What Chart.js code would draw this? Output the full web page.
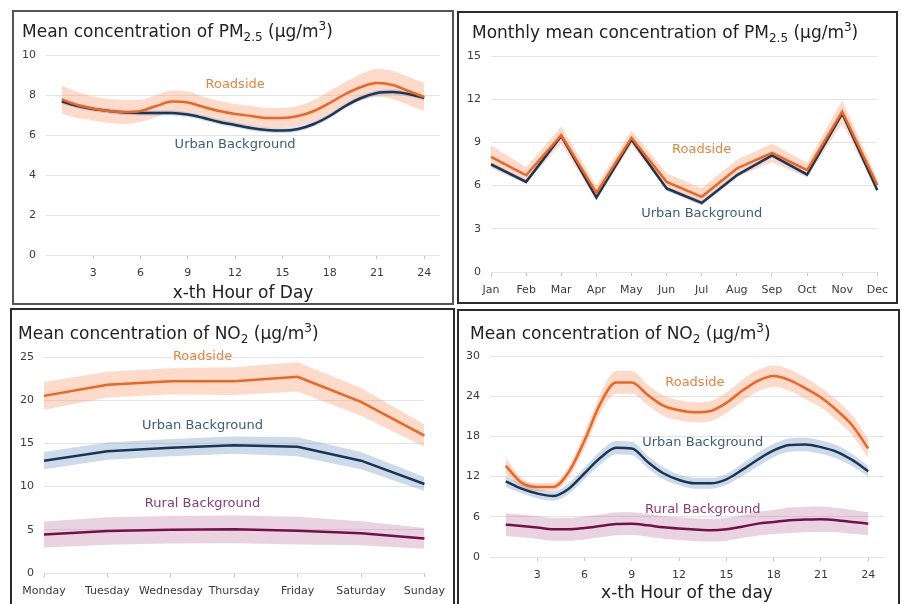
<!DOCTYPE html>
<html>
<head>
<meta charset="utf-8">
<script src="https://cdn.jsdelivr.net/npm/chart.js@4.4.0/dist/chart.umd.min.js"></script>
<style>
  body { margin: 0; width: 902px; height: 604px; overflow: hidden; background: #fff; font-family: "DejaVu Sans", sans-serif; position: relative; }
  .panel { position: absolute; box-sizing: border-box; border: 2px solid #2b2b2b; background: #fff; overflow: hidden; }
  .panel canvas { position: absolute; left: 0; top: 0; }
  .title { position: absolute; font-size: 17px; color: #222; white-space: nowrap; line-height: 20px; }
  .title sub, .title sup { font-size: 12px; line-height: 0; }
  .xlabel { position: absolute; font-size: 17px; color: #222; white-space: nowrap; line-height: 20px; transform: translateX(-50%); }
</style>
</head>
<body>

<div class="panel" style="left:12px;top:10px;width:442px;height:295px;border-color:#555">
  <canvas id="pmHour" width="438" height="291"></canvas>
  <div class="title" style="left:8px;top:9px">Mean concentration of PM<sub>2.5</sub> (µg/m<sup>3</sup>)</div>
  <div class="xlabel" style="left:229px;top:270px">x-th Hour of Day</div>
</div>

<div class="panel" style="left:457px;top:11px;width:441px;height:293px">
  <canvas id="pmMonth" width="437" height="289"></canvas>
  <div class="title" style="left:13px;top:9px">Monthly mean concentration of PM<sub>2.5</sub> (µg/m<sup>3</sup>)</div>
</div>

<div class="panel" style="left:10px;top:308px;width:445px;height:298px">
  <canvas id="no2Week" width="441" height="294"></canvas>
  <div class="title" style="left:6px;top:13px">Mean concentration of NO<sub>2</sub> (µg/m<sup>3</sup>)</div>
</div>

<div class="panel" style="left:457px;top:309px;width:443px;height:298px">
  <canvas id="no2Hour" width="439" height="294"></canvas>
  <div class="title" style="left:11px;top:12px">Mean concentration of NO<sub>2</sub> (µg/m<sup>3</sup>)</div>
  <div class="xlabel" style="left:228px;top:271px">x-th Hour of the day</div>
</div>

<script>
// --- datos ---
const hours = [1,2,3,4,5,6,7,8,9,10,11,12,13,14,15,16,17,18,19,20,21,22,23,24];
const hourTicks = [3,6,9,12,15,18,21,24];
const months = ["Jan","Feb","Mar","Apr","May","Jun","Jul","Aug","Sep","Oct","Nov","Dec"];
const weekdays = ["Monday","Tuesday","Wednesday","Thursday","Friday","Saturday","Sunday"];

// PM2.5 por hora
const pmHourRoadside = [7.78,7.5,7.33,7.2,7.15,7.2,7.45,7.67,7.62,7.4,7.2,7.05,6.95,6.85,6.85,6.95,7.2,7.6,8.05,8.4,8.6,8.5,8.2,7.9];
const pmHourRoadsideCi = [0.7,0.65,0.6,0.6,0.6,0.55,0.55,0.55,0.55,0.5,0.5,0.5,0.5,0.5,0.5,0.5,0.55,0.6,0.6,0.65,0.7,0.7,0.7,0.7];
const pmHourUrban = [7.67,7.45,7.3,7.2,7.12,7.1,7.1,7.1,7.02,6.85,6.65,6.5,6.35,6.25,6.22,6.3,6.55,6.95,7.45,7.85,8.1,8.15,8.05,7.85];
const pmHourUrbanCi = [0.12,0.12,0.12,0.12,0.12,0.12,0.12,0.12,0.12,0.12,0.12,0.12,0.12,0.12,0.12,0.12,0.12,0.12,0.12,0.12,0.12,0.12,0.12,0.12];

// PM2.5 mensual
const pmMonthRoadside = [8.0,6.72,9.5,5.5,9.32,6.26,5.22,7.19,8.28,7.07,11.13,6.03];
const pmMonthRoadsideCi = [0.8,0.55,0.6,0.5,0.5,0.6,0.6,0.6,0.65,0.5,0.8,0.45];
const pmMonthUrban = [7.47,6.26,9.45,5.17,9.2,5.8,4.8,6.72,8.1,6.77,11.0,5.68];
const pmMonthUrbanCi = [0.15,0.15,0.15,0.15,0.15,0.15,0.15,0.15,0.15,0.15,0.15,0.15];

// NO2 por dia de la semana
const no2WeekRoadside = [20.5,21.8,22.2,22.2,22.7,19.8,15.9];
const no2WeekRoadsideCi = [1.6,1.5,1.5,1.6,1.7,1.6,1.3];
const no2WeekUrban = [13.0,14.1,14.5,14.8,14.6,13.0,10.3];
const no2WeekUrbanCi = [1.0,1.0,1.0,1.0,1.1,1.0,0.8];
const no2WeekRural = [4.45,4.86,5.0,5.05,4.9,4.6,4.0];
const no2WeekRuralCi = [1.5,1.6,1.6,1.6,1.6,1.4,1.2];

// NO2 por hora
const no2HourRoadside = [13.6,11.1,10.46,10.46,12.7,17.4,22.9,26.06,26.06,24.2,22.6,21.9,21.6,21.8,23.0,24.8,26.3,27.0,26.4,25.2,23.8,21.9,19.6,16.2];
const no2HourRoadsideCi = [1.2,0.7,0.6,0.6,0.8,1.2,1.4,1.7,1.7,1.5,1.5,1.5,1.5,1.5,1.5,1.6,1.6,1.6,1.6,1.6,1.5,1.5,1.5,1.4];
const no2HourUrban = [11.3,10.2,9.47,9.1,10.2,12.5,14.8,16.3,16.2,14.2,12.5,11.5,11.0,11.0,11.6,13.0,14.55,15.9,16.7,16.8,16.4,15.7,14.45,12.8];
const no2HourUrbanCi = [0.8,0.7,0.7,0.7,0.8,0.9,1.0,1.0,1.0,0.9,0.9,0.8,0.8,0.8,0.8,0.9,1.0,1.0,1.0,1.0,1.0,1.0,0.9,0.8];
const no2HourRural = [4.83,4.63,4.4,4.14,4.14,4.33,4.63,4.93,4.98,4.73,4.43,4.24,4.1,4.0,4.14,4.53,4.98,5.23,5.5,5.58,5.63,5.5,5.23,4.98];
const no2HourRuralCi = [1.7,1.7,1.7,1.7,1.7,1.7,1.7,1.7,1.7,1.7,1.7,1.7,1.7,1.7,1.7,1.7,1.8,1.8,1.9,1.9,1.9,1.8,1.8,1.7];

// colores
const ORANGE = '#ef6520', ORANGE_TXT = '#e8843e', ORANGE_BAND = 'rgba(248,150,100,0.35)';
const NAVY = '#1b3556', NAVY_TXT = '#3d5c7e', NAVY_BAND = 'rgba(110,150,195,0.35)';
const PLUM = '#750f4c', PLUM_TXT = '#8c3c70', PLUM_BAND = 'rgba(170,80,130,0.25)';

// plugin para los textos sobre las curvas
const textLabels = {
  id: 'textLabels',
  afterDatasetsDraw(chart, args, opts) {
    const { ctx, scales: { x, y } } = chart;
    ctx.save();
    ctx.font = '13px "DejaVu Sans"';
    ctx.textAlign = 'center';
    ctx.textBaseline = 'middle';
    (opts.items || []).forEach(it => {
      ctx.fillStyle = it.color;
      ctx.fillText(it.text, x.getPixelForValue(it.x), y.getPixelForValue(it.y));
    });
    ctx.restore();
  }
};

// arma los puntos, con x numerica o por categoria
function pts(xs, vals, off, sign) {
  return vals.map((v, i) => {
    const yv = off ? v + sign * off[i] : v;
    return xs ? { x: xs[i], y: yv } : yv;
  });
}

function series(xs, vals, ci, line, band, order, smooth) {
  const common = { pointRadius: 0, cubicInterpolationMode: smooth ? 'monotone' : 'default', tension: 0 };
  return [
    Object.assign({ data: pts(xs, vals, ci, 1), borderWidth: 0, fill: false, order: 10 }, common),
    Object.assign({ data: pts(xs, vals, ci, -1), borderWidth: 0, fill: '-1', backgroundColor: band, order: 10 }, common),
    Object.assign({ data: pts(xs, vals), borderColor: line, borderWidth: 2.5, fill: false, order: order }, common)
  ];
}

function baseOptions(cfg) {
  return {
    responsive: false,
    animation: false,
    layout: { autoPadding: false, padding: { left: 0, top: cfg.top, right: cfg.right, bottom: 0 } },
    plugins: { legend: { display: false }, tooltip: { enabled: false }, textLabels: { items: cfg.labels } },
    scales: {
      x: Object.assign({
        border: { display: false },
        grid: { drawOnChartArea: false, drawTicks: true, tickLength: 4, color: '#c4c4c4' },
        ticks: { color: '#3a3a3a', font: { family: 'DejaVu Sans', size: 11 }, padding: 8, maxRotation: 0, autoSkip: false },
        afterFit: s => { s.height = cfg.xh; }
      }, cfg.x),
      y: {
        min: 0, max: cfg.ymax,
        border: { display: false },
        grid: { color: '#e4e4e4', drawTicks: false, lineWidth: 1 },
        ticks: { stepSize: cfg.ystep, color: '#3a3a3a', font: { family: 'DejaVu Sans', size: 11 }, padding: 10 },
        afterFit: s => { s.width = cfg.yw; }
      }
    }
  };
}

const hourAxis = {
  type: 'linear', min: 0, max: 25,
  afterBuildTicks: s => { s.ticks = hourTicks.map(v => ({ value: v })); }
};

// Grafico 1: PM2.5 por hora
new Chart(document.getElementById('pmHour'), {
  type: 'line',
  data: {
    datasets: [
      ...series(hours, pmHourUrban, pmHourUrbanCi, NAVY, NAVY_BAND, 1, true),
      ...series(hours, pmHourRoadside, pmHourRoadsideCi, ORANGE, ORANGE_BAND, 0, true)
    ]
  },
  options: baseOptions({
    top: 43, right: 12, xh: 48, yw: 32, ymax: 10, ystep: 2, x: hourAxis,
    labels: [
      { text: 'Roadside', x: 12, y: 8.5, color: ORANGE_TXT },
      { text: 'Urban Background', x: 12, y: 5.5, color: NAVY_TXT }
    ]
  }),
  plugins: [textLabels]
});

// Grafico 2: PM2.5 mensual
new Chart(document.getElementById('pmMonth'), {
  type: 'line',
  data: {
    labels: months,
    datasets: [
      ...series(null, pmMonthUrban, pmMonthUrbanCi, NAVY, NAVY_BAND, 1, false),
      ...series(null, pmMonthRoadside, pmMonthRoadsideCi, ORANGE, ORANGE_BAND, 0, false)
    ]
  },
  options: baseOptions({
    top: 43, right: 10, xh: 30, yw: 32, ymax: 15, ystep: 3, x: { type: 'category', offset: false },
    labels: [
      { text: 'Roadside', x: 6, y: 8.5, color: ORANGE_TXT },
      { text: 'Urban Background', x: 6, y: 4.06, color: NAVY_TXT }
    ]
  }),
  plugins: [textLabels]
});

// Grafico 3: NO2 semanal
new Chart(document.getElementById('no2Week'), {
  type: 'line',
  data: {
    labels: weekdays,
    datasets: [
      ...series(null, no2WeekRural, no2WeekRuralCi, PLUM, PLUM_BAND, 2, false),
      ...series(null, no2WeekUrban, no2WeekUrbanCi, NAVY, NAVY_BAND, 1, false),
      ...series(null, no2WeekRoadside, no2WeekRoadsideCi, ORANGE, ORANGE_BAND, 0, false)
    ]
  },
  options: baseOptions({
    top: 47, right: 25, xh: 31, yw: 32, ymax: 25, ystep: 5, x: { type: 'category', offset: false },
    labels: [
      { text: 'Roadside', x: 2.5, y: 25.1, color: ORANGE_TXT },
      { text: 'Urban Background', x: 2.5, y: 17.1, color: NAVY_TXT },
      { text: 'Rural Background', x: 2.5, y: 8.0, color: PLUM_TXT }
    ]
  }),
  plugins: [textLabels]
});

// Grafico 4: NO2 por hora
new Chart(document.getElementById('no2Hour'), {
  type: 'line',
  data: {
    datasets: [
      ...series(hours, no2HourRural, no2HourRuralCi, PLUM, PLUM_BAND, 2, true),
      ...series(hours, no2HourUrban, no2HourUrbanCi, NAVY, NAVY_BAND, 1, true),
      ...series(hours, no2HourRoadside, no2HourRoadsideCi, ORANGE, ORANGE_BAND, 0, true)
    ]
  },
  options: baseOptions({
    top: 45, right: 14, xh: 48, yw: 31, ymax: 30, ystep: 6, x: hourAxis,
    labels: [
      { text: 'Roadside', x: 13, y: 26, color: ORANGE_TXT },
      { text: 'Urban Background', x: 13.5, y: 17.0, color: NAVY_TXT },
      { text: 'Rural Background', x: 13.5, y: 7.1, color: PLUM_TXT }
    ]
  }),
  plugins: [textLabels]
});
</script>
</body>
</html>
